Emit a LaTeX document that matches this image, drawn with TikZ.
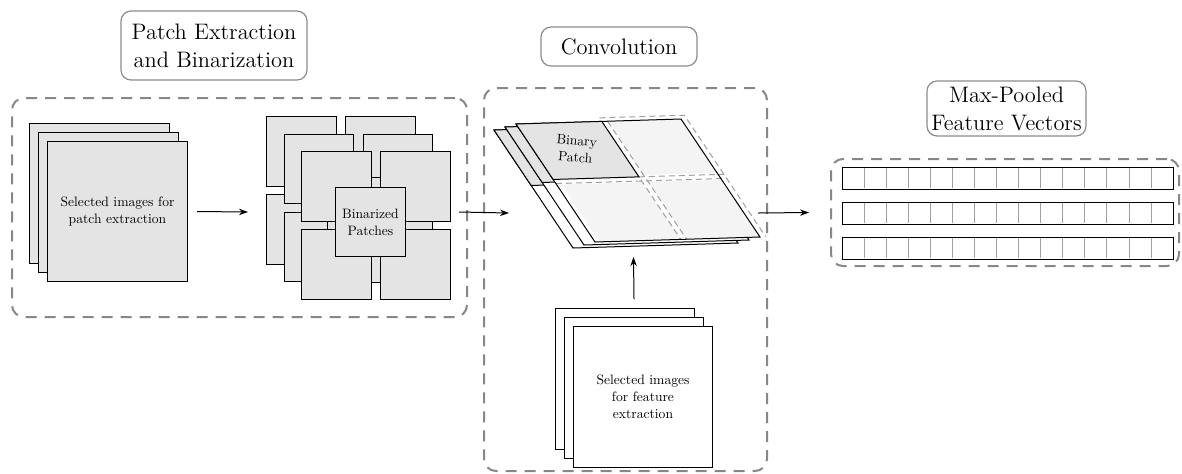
\documentclass[tikz,border=0pt]{standalone}
\usetikzlibrary{arrows.meta}

\definecolor{patchgray}{HTML}{E4E4E4}
\definecolor{lightfill}{HTML}{F4F4F4}
\definecolor{dashgray}{HTML}{878787}
\definecolor{framegray}{HTML}{8C8C8C}
\definecolor{cellgray}{HTML}{A0A0A0}

\begin{document}
\begin{tikzpicture}[x=0.5pt,y=-0.5pt,
  groupbox/.style={draw=dashgray, line width=1pt, dash pattern=on 5.5pt off 4pt,
    rounded corners=6pt, inner sep=0pt},
  titlebox/.style={draw=framegray, line width=0.6pt, rounded corners=5pt, fill=white,
    align=center, inner sep=0pt, font=\rmfamily\fontsize{11.2}{14}\selectfont},
  card/.style={draw=black, line width=0.5pt, fill=patchgray, inner sep=0pt,
    minimum width=70pt, minimum height=70pt, anchor=north west},
  blankcard/.style={card, fill=white, minimum width=69.5pt, minimum height=70.5pt},
  pcard/.style={draw=black, line width=0.5pt, fill=patchgray, inner sep=0pt,
    minimum width=34.75pt, minimum height=34.75pt, anchor=north west},
  small/.style={align=center, inner sep=0pt, scale=0.68,
    font=\rmfamily\fontsize{10}{12.5}\selectfont},
  sheetline/.style={draw=black, line width=0.5pt},
  window/.style={draw=dashgray!80, line width=0.5pt, dash pattern=on 3pt off 2pt},
  ghost/.style={inner sep=0pt, outer sep=0pt},
  flow/.style={-{Stealth[length=4.5pt,width=3.2pt]}, line width=0.5pt},
  cellline/.style={draw=cellgray, line width=0.4pt},
  vrow/.style={draw=black, line width=0.6pt, inner sep=0pt, minimum width=165.5pt,
    minimum height=11pt, anchor=north west}]
\useasboundingbox (0,0) rectangle (1182,473);

% ---------- stage titles ----------
\node[titlebox, minimum width=93pt, minimum height=34.5pt] (t1) at (214,45.5)
  {Patch Extraction\\and Binarization};
\node[titlebox, minimum width=78pt, minimum height=19.5pt] (t2) at (619,46.5)
  {Convolution};
\node[titlebox, minimum width=79.5pt, minimum height=27.5pt] (t3) at (1006.5,108.5)
  {Max-Pooled\\Feature Vectors};

% ---------- group frames ----------
\node[groupbox, minimum width=227.5pt, minimum height=109.5pt] (g1) at (239.5,207.5) {};
\node[groupbox, minimum width=141.5pt, minimum height=191.5pt] (g2) at (625.5,279.5) {};
\node[groupbox, minimum width=174pt, minimum height=53.5pt] (g3) at (1005,212.5) {};

% ---------- images used for patch extraction ----------
\node[card] (sel3) at (29,123) {};
\node[card] (sel2) at (38,132) {};
\node[card] (sel1) at (47,141) {};
\node[small] (sel1-text) at (sel1.center) {Selected images for\\patch extraction};

% ---------- binarized patches ----------
\node[ghost, minimum width=91.5pt, minimum height=91.5pt] (patchgrid) at (357.5,212) {};
\foreach \k in {0,1} {
  \foreach \px/\py [count=\i] in {266/116, 345/116, 266/194, 345/194}
    \node[pcard] (p-\k-\i) at (\px+17.5*\k, \py+17.5*\k) {};
}
\node[pcard, minimum width=52.5pt, minimum height=52.5pt] (pbig) at (327,177) {};
\foreach \px/\py [count=\i] in {266/116, 345/116, 266/194, 345/194}
  \node[pcard] (p-2-\i) at (\px+35, \py+35) {};
\node[pcard, minimum width=35pt, minimum height=34.5pt] (binp) at (335,187) {};
\node[small] (binp-text) at (binp.center) {Binarized\\Patches};

% ---------- convolution sheets ----------
\foreach \ox/\oy in {494/130, 505/127} {
  \begin{scope}[shift={(\ox,\oy)}, x={(82.5pt,2.5pt)}, y={(39.5pt,-59pt)}]
    \draw[sheetline, fill=white] (0,0) -- (1,0) -- (1,1) -- (0,1) -- cycle;
    \draw[sheetline, fill=patchgray] (0,0) -- (0.52,0) -- (0.52,0.47) -- (0,0.47) -- cycle;
  \end{scope}
}
\begin{scope}[shift={(516,124)}, x={(82.5pt,2.5pt)}, y={(39.5pt,-59pt)}]
  \fill[white] (0,0) -- (1,0) -- (1,1) -- (0,1) -- cycle;
  \fill[lightfill] (0.555,0) -- (1,0) -- (1,0.455) -- (0.555,0.455) -- cycle;
  \fill[lightfill] (0.03,0.515) -- (0.52,0.515) -- (0.52,1) -- (0.03,1) -- cycle;
  \fill[lightfill] (0.555,0.515) -- (1,0.515) -- (1,1) -- (0.555,1) -- cycle;
  % sliding-window outlines
  \draw[window] (0.52,-0.03) -- (1.035,-0.03) -- (1.035,1);
  \draw[window] (0.52,0.47) -- (1.035,0.47);
  \draw[window] (0,0.505) -- (1.035,0.505);
  \draw[window] (0.52,0) -- (0.52,1);
  \draw[window] (0.555,0) -- (0.555,1);
  \draw[sheetline] (0,0) -- (1,0) -- (1,1) -- (0,1) -- cycle;
  \draw[sheetline, fill=patchgray] (0,0) -- (0.52,0) -- (0.52,0.47) -- (0,0.47) -- cycle;
\end{scope}
\node[small, rotate=-5] (bpatch) at (576,149) {Binary\\Patch};
\node[ghost, minimum width=124.5pt, minimum height=44pt] (convstack) at (633.5,213) {};

% ---------- images used for feature extraction ----------
\node[blankcard] (feat3) at (555,308) {};
\node[blankcard] (feat2) at (564,317) {};
\node[blankcard] (feat1) at (573,326) {};
\node[small] (feat1-text) at (feat1.center) {Selected images\\for feature\\extraction};

% ---------- max-pooled feature vectors ----------
\foreach \ry [count=\r] in {167, 202, 237} {
  \node[vrow] (vec\r) at (842,\ry) {};
  \foreach \c in {1,...,14}
    \draw[cellline] (842+\c*22.07,\ry+0.6) -- (842+\c*22.07,\ry+21.4);
  \node[vrow, fill=none] (vecframe\r) at (842,\ry) {};
}

% ---------- data flow ----------
\draw[flow] ([xshift=4.5pt]sel1.east) -- ([xshift=-9pt]patchgrid.west);
\draw[flow] ([xshift=5pt]patchgrid.east) -- (convstack.west);
\draw[flow] (convstack.east) -- ([xshift=-10.5pt]g3.west);
\draw[flow] ([yshift=9pt]feat2.north) -- (convstack.south);
\end{tikzpicture}
\end{document}
